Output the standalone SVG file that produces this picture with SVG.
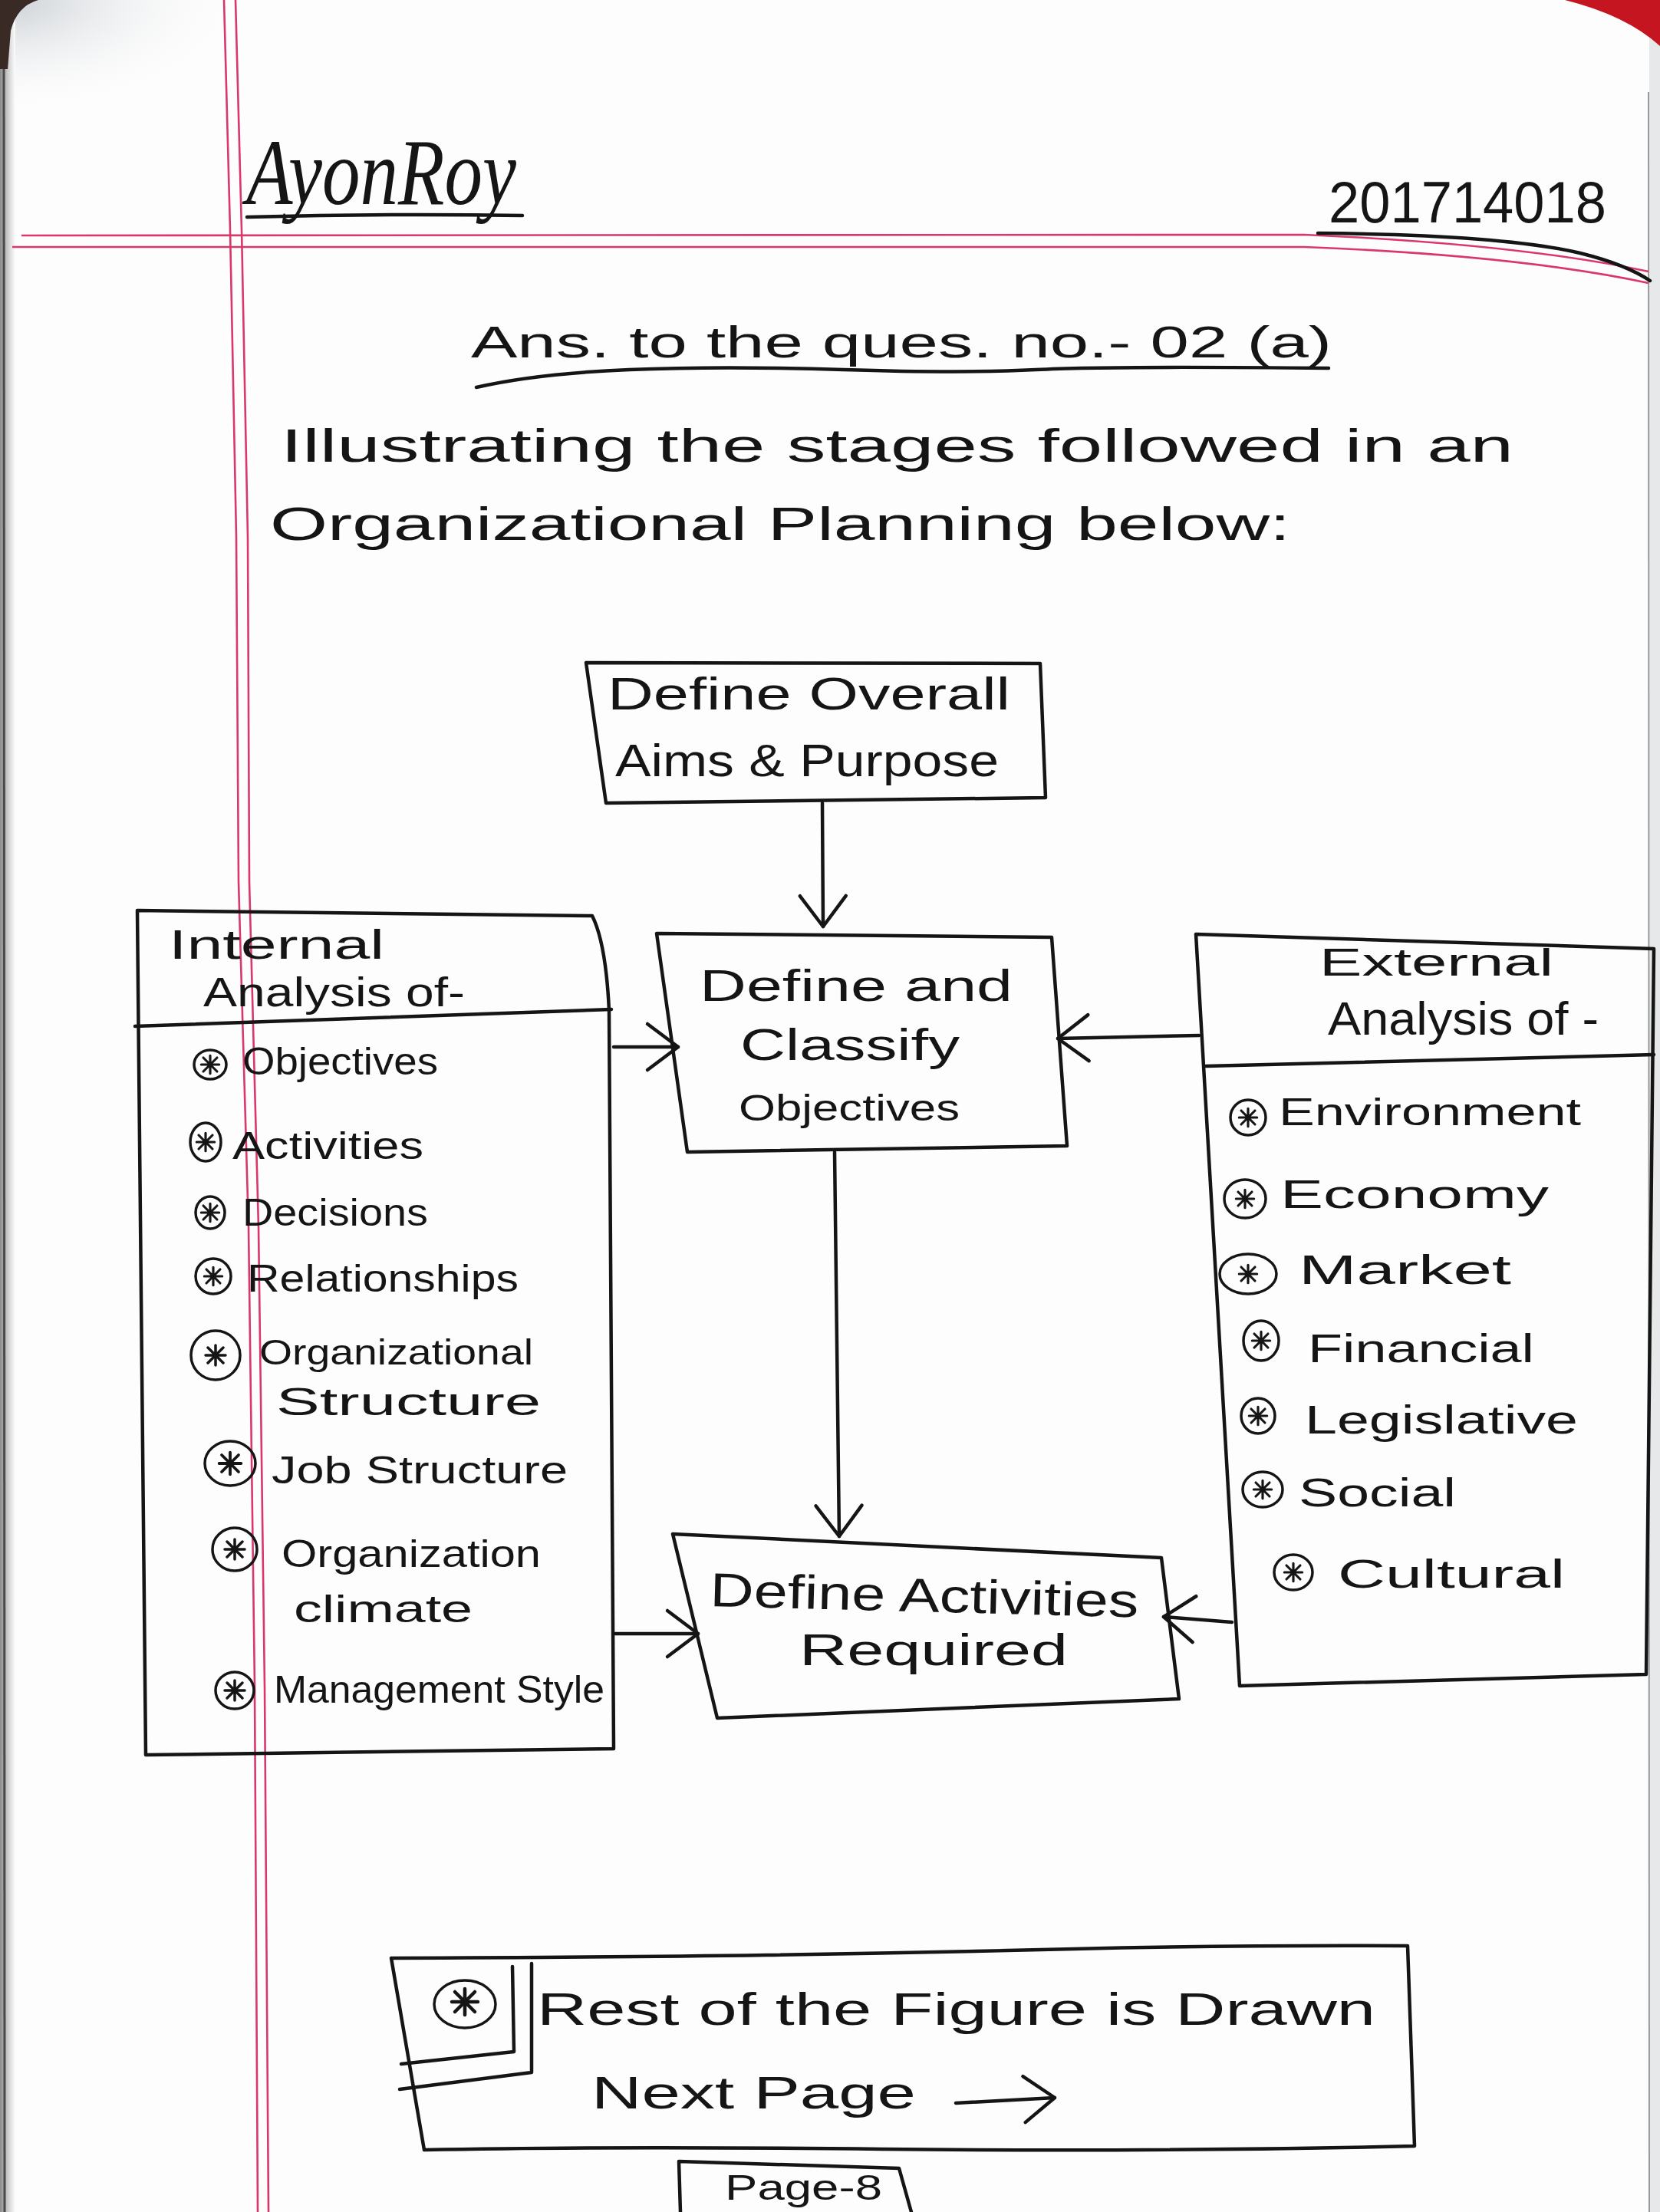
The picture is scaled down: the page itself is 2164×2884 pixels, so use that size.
<svg xmlns="http://www.w3.org/2000/svg" width="2164" height="2884" viewBox="0 0 2164 2884">
<defs>
<style>
.hw{font-family:"Liberation Sans","DejaVu Sans",sans-serif;fill:#151515}
.sig{font-family:"Liberation Serif","DejaVu Serif",serif;font-style:italic;fill:#151515}
.ink{fill:none;stroke:#151515;stroke-width:4.5;stroke-linecap:round;stroke-linejoin:round}
.thin{fill:none;stroke:#151515;stroke-width:3.5;stroke-linecap:round;stroke-linejoin:round}
.red{fill:none;stroke:#d9386a;stroke-width:2.6}
.conn{fill:none;stroke:#151515;stroke-width:4.5;stroke-linecap:round;marker-end:url(#open)}
</style>
<marker id="open" markerUnits="userSpaceOnUse" markerWidth="90" markerHeight="90" refX="0" refY="0" viewBox="-50 -45 60 90" orient="auto">
<path d="M-40,-30 L0,0 L-40,30" fill="none" stroke="#151515" stroke-width="4.5" stroke-linecap="round" stroke-linejoin="round"/>
</marker>
<g id="ast"><path d="M-10,-10L10,10M10,-10L-10,10M0,-13V13M-13,0H13" fill="none" stroke="#151515" stroke-width="3.5" stroke-linecap="round"/></g>
<linearGradient id="shadeL" x1="0" y1="0" x2="1" y2="0">
<stop offset="0" stop-color="#8c8c8c"/><stop offset="0.6" stop-color="#d6d6d6"/><stop offset="1" stop-color="#fdfdfd"/>
</linearGradient>
<radialGradient id="shadeTL" cx="0" cy="0" r="1">
<stop offset="0" stop-color="#c9ced3"/><stop offset="1" stop-color="#fdfdfd" stop-opacity="0"/>
</radialGradient>
</defs>

<!-- page -->
<rect x="0" y="0" width="2164" height="2884" fill="#fdfdfd"/>
<rect x="0" y="0" width="320" height="150" fill="url(#shadeTL)"/>
<rect x="0" y="0" width="20" height="2884" fill="url(#shadeL)"/>
<path d="M5,40 L6,2884" stroke="#4a4a4a" stroke-width="3" fill="none"/>
<path d="M0,0 H50 Q22,8 14,40 L10,90 H0 Z" fill="#3a2a26"/>
<rect x="2150" y="0" width="14" height="2884" fill="#e6e8ea"/>
<path d="M2149,120 L2150,2884" stroke="#9a9a9a" stroke-width="2" fill="none"/>
<path d="M2040,0 H2164 V60 Q2120,20 2040,0 Z" fill="#c41521"/>

<!-- ruled margin lines -->
<path class="red" d="M292,0 L300,300 L308,700 L311,1150 L324,1600 L332,2200 L336,2884"/>
<path class="red" d="M307,0 L315,300 L323,700 L325,1150 L337,1600 L345,2200 L350,2884"/>
<path class="red" d="M28,307 L1700,306 Q1980,318 2149,354"/>
<path class="red" d="M16,322 L1700,322 Q1980,333 2149,369"/>

<!-- header -->
<g id="header">
<text class="sig" x="321" y="266" font-size="122" textLength="352" lengthAdjust="spacingAndGlyphs">AyonRoy</text>
<path class="ink" d="M322,283 Q500,278 681,281"/>
<text class="hw" x="1732" y="290" font-size="76" textLength="362" lengthAdjust="spacingAndGlyphs">201714018</text>
<path class="ink" d="M1718,304 Q1960,306 2060,330 Q2120,345 2151,366"/>
<text class="hw" x="614" y="466" font-size="58" textLength="1122" lengthAdjust="spacingAndGlyphs">Ans. to the ques. no.- 02 (a)</text>
<path class="ink" d="M621,505 Q700,487 820,482 T1100,482 T1350,482 T1732,480"/>
<text class="hw" x="366" y="602" font-size="62" textLength="1607" lengthAdjust="spacingAndGlyphs">Illustrating the stages followed in an</text>
<text class="hw" x="352" y="704" font-size="62" textLength="1330" lengthAdjust="spacingAndGlyphs">Organizational Planning below:</text>
</g>

<!-- nodes -->
<g id="node-aims">
<path class="ink" d="M764,864 L1356,865 L1363,1040 L790,1047 Z"/>
<text class="hw" x="792" y="925" font-size="60" textLength="525" lengthAdjust="spacingAndGlyphs">Define Overall</text>
<text class="hw" x="802" y="1012" font-size="60" textLength="500" lengthAdjust="spacingAndGlyphs">Aims &amp; Purpose</text>
</g>

<g id="node-objectives">
<path class="ink" d="M856,1217 L1371,1222 L1391,1494 L896,1502 Z"/>
<text class="hw" x="912" y="1305" font-size="57" textLength="408" lengthAdjust="spacingAndGlyphs">Define and</text>
<text class="hw" x="965" y="1382" font-size="57" textLength="286" lengthAdjust="spacingAndGlyphs">Classify</text>
<text class="hw" x="963" y="1461" font-size="48" textLength="288" lengthAdjust="spacingAndGlyphs">Objectives</text>
</g>

<g id="node-activities">
<path class="ink" d="M877,2000 L1514,2031 L1537,2215 L935,2240 Z"/>
<text class="hw" x="925" y="2094" font-size="62" textLength="559" lengthAdjust="spacingAndGlyphs" transform="rotate(1.5 925 2094)">Define Activities</text>
<text class="hw" x="1042" y="2171" font-size="58" textLength="350" lengthAdjust="spacingAndGlyphs">Required</text>
</g>

<g id="node-internal">
<path class="ink" d="M179,1187 L772,1194 Q790,1230 794,1318 L800,2280 L190,2288 Z"/>
<path class="ink" d="M176,1338 L797,1316"/>
<text class="hw" x="220" y="1250" font-size="54" textLength="281" lengthAdjust="spacingAndGlyphs">Internal</text>
<text class="hw" x="265" y="1312" font-size="54" textLength="341" lengthAdjust="spacingAndGlyphs">Analysis of-</text>
<g class="items">
<ellipse class="thin" cx="274" cy="1388" rx="21" ry="19"/><use href="#ast" transform="translate(274 1388) scale(0.9)"/>
<text class="hw" x="316" y="1401" font-size="50" textLength="255" lengthAdjust="spacingAndGlyphs">Objectives</text>
<ellipse class="thin" cx="268" cy="1489" rx="20" ry="25"/><use href="#ast" transform="translate(268 1489) scale(0.9)"/>
<text class="hw" x="303" y="1511" font-size="50" textLength="249" lengthAdjust="spacingAndGlyphs">Activities</text>
<ellipse class="thin" cx="274" cy="1581" rx="19" ry="21"/><use href="#ast" transform="translate(274 1581) scale(0.9)"/>
<text class="hw" x="316" y="1598" font-size="50" textLength="242" lengthAdjust="spacingAndGlyphs">Decisions</text>
<ellipse class="thin" cx="278" cy="1664" rx="23" ry="23"/><use href="#ast" transform="translate(278 1664) scale(0.9)"/>
<text class="hw" x="322" y="1684" font-size="50" textLength="354" lengthAdjust="spacingAndGlyphs">Relationships</text>
<ellipse class="thin" cx="281" cy="1767" rx="32" ry="32"/><use href="#ast" transform="translate(281 1767) scale(1)"/>
<text class="hw" x="338" y="1779" font-size="46" textLength="357" lengthAdjust="spacingAndGlyphs">Organizational</text>
<text class="hw" x="360" y="1845" font-size="50" textLength="345" lengthAdjust="spacingAndGlyphs">Structure</text>
<ellipse class="thin" cx="300" cy="1908" rx="33" ry="29"/><use href="#ast" transform="translate(300 1908) scale(1.1)"/>
<text class="hw" x="354" y="1934" font-size="50" textLength="386" lengthAdjust="spacingAndGlyphs">Job Structure</text>
<ellipse class="thin" cx="306" cy="2020" rx="29" ry="28"/><use href="#ast" transform="translate(306 2020) scale(1)"/>
<text class="hw" x="367" y="2043" font-size="50" textLength="338" lengthAdjust="spacingAndGlyphs">Organization</text>
<text class="hw" x="383" y="2115" font-size="50" textLength="233" lengthAdjust="spacingAndGlyphs">climate</text>
<ellipse class="thin" cx="306" cy="2204" rx="25" ry="24"/><use href="#ast" transform="translate(306 2204) scale(1)"/>
<text class="hw" x="357" y="2220" font-size="50" textLength="431" lengthAdjust="spacingAndGlyphs">Management Style</text>
</g>
</g>

<g id="node-external">
<path class="ink" d="M1559,1218 L2156,1237 L2146,2183 L1616,2198 Z"/>
<path class="ink" d="M1572,1390 L2156,1375"/>
<text class="hw" x="1720" y="1272" font-size="50" textLength="305" lengthAdjust="spacingAndGlyphs">External</text>
<text class="hw" x="1731" y="1349" font-size="62" textLength="353" lengthAdjust="spacingAndGlyphs">Analysis of -</text>
<g class="items">
<ellipse class="thin" cx="1627" cy="1457" rx="23" ry="23"/><use href="#ast" transform="translate(1627 1457) scale(0.9)"/>
<text class="hw" x="1667" y="1467" font-size="50" textLength="394" lengthAdjust="spacingAndGlyphs">Environment</text>
<ellipse class="thin" cx="1623" cy="1563" rx="27" ry="25"/><use href="#ast" transform="translate(1623 1563) scale(0.9)"/>
<text class="hw" x="1669" y="1575" font-size="52" textLength="350" lengthAdjust="spacingAndGlyphs">Economy</text>
<ellipse class="thin" cx="1627" cy="1661" rx="37" ry="26"/><use href="#ast" transform="translate(1627 1661) scale(0.9)"/>
<text class="hw" x="1693" y="1674" font-size="54" textLength="277" lengthAdjust="spacingAndGlyphs">Market</text>
<ellipse class="thin" cx="1644" cy="1748" rx="23" ry="26"/><use href="#ast" transform="translate(1644 1748) scale(0.9)"/>
<text class="hw" x="1705" y="1776" font-size="52" textLength="295" lengthAdjust="spacingAndGlyphs">Financial</text>
<ellipse class="thin" cx="1640" cy="1846" rx="22" ry="23"/><use href="#ast" transform="translate(1640 1846) scale(0.9)"/>
<text class="hw" x="1701" y="1869" font-size="52" textLength="356" lengthAdjust="spacingAndGlyphs">Legislative</text>
<ellipse class="thin" cx="1646" cy="1942" rx="26" ry="23"/><use href="#ast" transform="translate(1646 1942) scale(0.9)"/>
<text class="hw" x="1693" y="1964" font-size="52" textLength="205" lengthAdjust="spacingAndGlyphs">Social</text>
<ellipse class="thin" cx="1686" cy="2050" rx="25" ry="23"/><use href="#ast" transform="translate(1686 2050) scale(0.9)"/>
<text class="hw" x="1744" y="2070" font-size="52" textLength="296" lengthAdjust="spacingAndGlyphs">Cultural</text>
</g>
</g>

<g id="node-rest">
<path class="ink" d="M510,2553 Q800,2552 1000,2549 T1400,2541 T1835,2537 L1844,2798 Q1500,2806 1150,2802 T553,2803 Z"/>
<path class="ink" d="M668,2564 L670,2675 L523,2691"/>
<path class="ink" d="M693,2560 L693,2702 L521,2724"/>
<ellipse class="thin" cx="606" cy="2613" rx="40" ry="31"/><use href="#ast" transform="translate(606 2610) scale(1.3)"/>
<text class="hw" x="700" y="2640" font-size="60" textLength="1093" lengthAdjust="spacingAndGlyphs">Rest of the Figure is Drawn</text>
<text class="hw" x="771" y="2749" font-size="60" textLength="423" lengthAdjust="spacingAndGlyphs">Next Page</text>
<path class="conn" d="M1246,2742 L1375,2735"/>
</g>

<g id="page-number">
<path class="ink" d="M887,2884 L885,2818 L1172,2827 L1188,2884"/>
<text class="hw" x="945" y="2868" font-size="46" textLength="205" lengthAdjust="spacingAndGlyphs">Page-8</text>
</g>

<!-- connectors -->
<g id="connectors">
<path class="conn" d="M1072,1047 L1073,1208"/>
<path class="conn" d="M1088,1502 L1094,2003"/>
<path class="conn" d="M800,1365 L884,1365"/>
<path class="conn" d="M800,2130 L910,2130"/>
<path class="conn" d="M1563,1350 L1379,1354"/>
<path class="conn" d="M1606,2115 L1517,2108"/>
</g>
</svg>
